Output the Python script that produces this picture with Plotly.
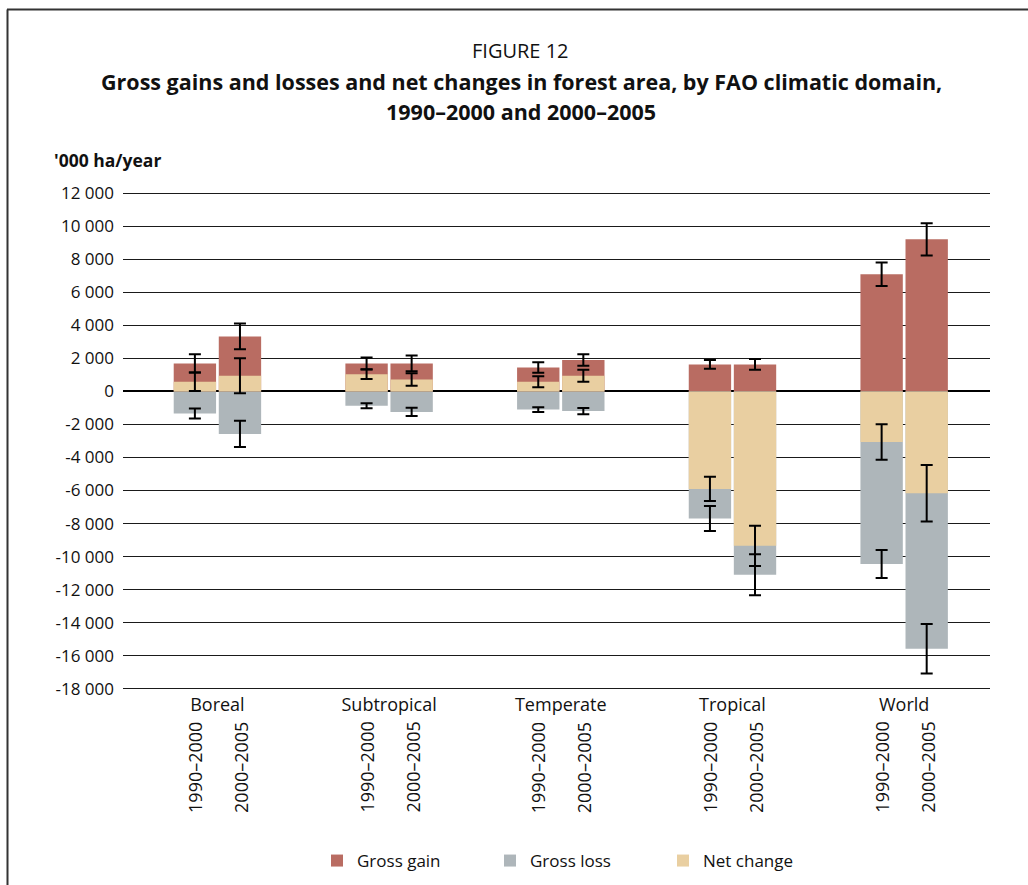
import plotly.graph_objects as go

domains = ["Boreal", "Subtropical", "Temperate", "Tropical", "World"]
periods = ["1990–2000", "2000–2005"]

# '000 ha/year
gain_1990 = [1700, 1700, 1450, 1640, 7100]
gain_2000 = [3330, 1700, 1900, 1640, 9210]
loss_1990 = [-1330, -870, -1100, -7690, -10450]
loss_2000 = [-2570, -1240, -1190, -11100, -15580]
net_1990 = [590, 1040, 590, -5900, -3060]
net_2000 = [950, 720, 950, -9350, -6160]

gain_err_1990 = [550, 360, 320, 270, 710]
gain_err_2000 = [780, 480, 350, 320, 980]
loss_err_1990 = [300, 150, 150, 760, 850]
loss_err_2000 = [800, 250, 190, 1240, 1500]
net_err_1990 = [560, 290, 330, 740, 1070]
net_err_2000 = [1060, 380, 360, 1220, 1710]

y_ticks = list(range(-18000, 12001, 2000))
y_ticktext = [f"{v:,}".replace(",", " ") for v in y_ticks]

GAIN = "#b96c62"
LOSS = "#aeb6ba"
NET = "#e9cfa1"
FONT = "Open Sans"

FIG_W, FIG_H = 1028, 885

# plot area in pixels, used to place the furniture outside it
L, R, T, B = 123, 990, 190, 692
W, H = R - L, B - T


def px(x):
    return (x - L) / W


def py(y):
    return (B - y) / H


series = [
    ("Gross gain", GAIN, gain_1990, gain_2000, gain_err_1990, gain_err_2000),
    ("Gross loss", LOSS, loss_1990, loss_2000, loss_err_1990, loss_err_2000),
    ("Net change", NET, net_1990, net_2000, net_err_1990, net_err_2000),
]

fig = go.Figure()
for name, color, v1, v2, e1, e2 in series:
    for i, (vals, errs) in enumerate([(v1, e1), (v2, e2)]):
        fig.add_trace(go.Bar(
            x=domains, y=vals,
            name=name, legendgroup=name, showlegend=(i == 0),
            offsetgroup=periods[i],
            marker=dict(color=color, line=dict(width=0)),
            error_y=dict(type="data", array=errs, color="black",
                         thickness=2, width=6),
        ))

annotations = [
    dict(text="FIGURE 12", x=px(520), y=py(50), font=dict(size=20)),
    dict(text="<b>Gross gains and losses and net changes in forest area, "
              "by FAO climatic domain,</b>", x=px(521), y=py(82), font=dict(size=21.5)),
    dict(text="<b>1990–2000 and 2000–2005</b>", x=px(521), y=py(112), font=dict(size=21.5)),
    dict(text="<b>'000 ha/year</b>", x=px(52), y=py(160), xanchor="left",
         font=dict(size=17.5)),
]
for a in annotations:
    a.setdefault("xanchor", "center")
    a.update(xref="paper", yref="paper", showarrow=False, yanchor="middle")

for d in domains:
    for i, p in enumerate(periods):
        annotations.append(dict(
            text=p, x=d, xref="x", xshift=(-23 if i == 0 else 23),
            y=py(720), yref="paper", yanchor="top", xanchor="center",
            textangle=-90, showarrow=False, font=dict(size=18),
        ))

shapes = [
    dict(type="line", xref="paper", yref="paper", x0=px(7), x1=px(1030),
         y0=py(9.5), y1=py(9.5), line=dict(color="#333", width=2)),
    dict(type="line", xref="paper", yref="paper", x0=px(7.5), x1=px(7.5),
         y0=py(9.5), y1=py(890), line=dict(color="#333", width=2)),
]

fig.update_layout(
    width=FIG_W, height=FIG_H,
    margin=dict(l=L, r=FIG_W - R, t=T, b=FIG_H - B),
    barmode="group", bargap=0.475, bargroupgap=0.06,
    plot_bgcolor="white", paper_bgcolor="white",
    font=dict(family=FONT, size=17, color="#111"),
    showlegend=True,
    legend=dict(orientation="h", x=px(317), xanchor="left",
                yref="container", y=1 - 861 / FIG_H, yanchor="middle",
                font=dict(size=17), entrywidth=128, traceorder="normal"),
    annotations=annotations,
    shapes=shapes,
    xaxis=dict(range=[-0.55, 4.5], showgrid=False, showline=False, ticks="",
               tickfont=dict(size=18), fixedrange=True),
    yaxis=dict(range=[-18200, 12200], tickvals=y_ticks, ticktext=y_ticktext,
               showgrid=True, gridcolor="#1a1a1a", gridwidth=1,
               zeroline=True, zerolinecolor="black", zerolinewidth=2,
               showline=False, ticks="", ticklabelstandoff=8,
               tickfont=dict(size=17)),
)

# drop the browser's default page margin so the figure fills the window
fig.write_html(
    "out.html",
    config={"displayModeBar": False},
    post_script="document.body.style.margin='0';document.body.style.overflow='hidden';",
)
